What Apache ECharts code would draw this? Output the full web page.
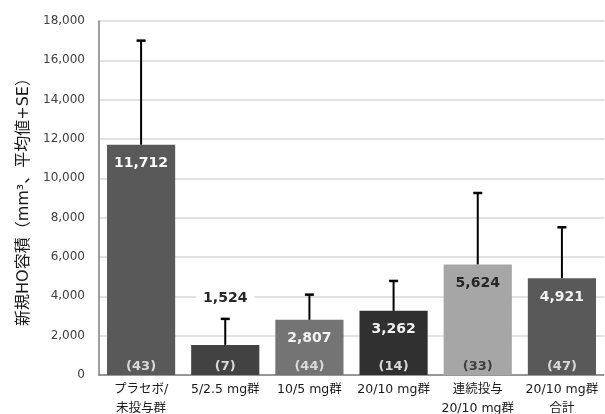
<!DOCTYPE html>
<html><head><meta charset="utf-8">
<script src="https://cdn.jsdelivr.net/npm/echarts@6/dist/echarts.min.js"></script>
<style>html,body{margin:0;padding:0;background:#fff}#c{width:605px;height:414px}</style>
</head><body><div id="c"></div>
<script>
const categories = ['プラセボ/\n未投与群', '5/2.5 mg群', '10/5 mg群', '20/10 mg群', '連続投与\n20/10 mg群', '20/10 mg群\n合計'];
const means = [11712, 1524, 2807, 3262, 5624, 4921];
const seValues = [5290, 1330, 1280, 1520, 3630, 2590];
const groupN = [43, 7, 44, 14, 33, 47];
const yTicks = { min: 0, max: 18000, interval: 2000 };

const barColors = ['#595959', '#424242', '#747474', '#303030', '#a6a6a6', '#595959'];
const valueTextColors = ['#ffffff', '#262626', '#f2f2f2', '#f2f2f2', '#262626', '#f2f2f2'];
const nTextColors = ['#d9d9d9', '#d9d9d9', '#d9d9d9', '#d9d9d9', '#404040', '#d9d9d9'];
const numFont = '"DejaVu Sans", Verdana, sans-serif';
const jpFont = '"DejaVu Sans", "Noto Sans CJK JP", sans-serif';
const fmt = v => v.toLocaleString('en-US');

const chart = echarts.init(document.getElementById('c'), null, { renderer: 'canvas' });
chart.setOption({
  animation: false,
  grid: { left: 99, right: 1, top: 21, bottom: 39, outerBoundsMode: 'none', containLabel: false },
  xAxis: {
    type: 'category', data: categories,
    axisLine: { lineStyle: { color: '#7f7f7f', width: 1.5 } },
    axisTick: { show: false },
    axisLabel: { interval: 0, color: '#1a1a1a', fontSize: 12.5, fontFamily: jpFont, lineHeight: 19, margin: 5 }
  },
  yAxis: {
    type: 'value', min: yTicks.min, max: yTicks.max, interval: yTicks.interval,
    name: '新規HO容積（mm³、平均値+SE）', nameLocation: 'middle', nameGap: 53, nameRotate: 90,
    nameTextStyle: { fontSize: 16, color: '#1a1a1a', fontFamily: jpFont },
    axisLine: { show: true, lineStyle: { color: '#7f7f7f', width: 1.5 } },
    axisTick: { show: false },
    axisLabel: { color: '#404040', fontSize: 12, fontFamily: numFont, margin: 14, formatter: v => fmt(v) },
    splitLine: { lineStyle: { color: '#d9d9d9', width: 1.5 } }
  },
  series: [{
    type: 'bar', barCategoryGap: '19%',
    data: means.map((v, i) => ({
      value: v,
      itemStyle: { color: barColors[i] },
      label: {
        show: i !== 1, position: 'insideTop', distance: 12,
        color: valueTextColors[i], fontSize: 14, fontWeight: 'bold', fontFamily: numFont,
        formatter: p => fmt(p.value)
      }
    }))
  }, {
    type: 'custom', z: 5,
    data: means.map((v, i) => [i, v, seValues[i], groupN[i]]),
    renderItem: (params, api) => {
      const i = api.value(0), m = api.value(1), se = api.value(2), n = api.value(3);
      const p0 = api.coord([i, m]);
      const p1 = api.coord([i, m + se]);
      const pb = api.coord([i, 0]);
      const children = [
        { type: 'line', shape: { x1: p0[0], y1: p0[1], x2: p1[0], y2: p1[1] }, style: { stroke: '#000', lineWidth: 2 } },
        { type: 'line', shape: { x1: p1[0] - 4.5, y1: p1[1], x2: p1[0] + 4.5, y2: p1[1] }, style: { stroke: '#000', lineWidth: 2.5 } },
        { type: 'text', x: pb[0], y: pb[1] - 8, style: { text: '(' + n + ')', fill: nTextColors[i], fontSize: 13, fontWeight: 'bold', fontFamily: numFont, align: 'center', verticalAlign: 'middle' } }
      ];
      if (i === 1) {
        children.push({ type: 'text', x: p1[0], y: p1[1] - 21, style: { text: fmt(m), fill: '#262626', fontSize: 14, fontWeight: 'bold', fontFamily: numFont, align: 'center', verticalAlign: 'middle', backgroundColor: '#fff', padding: [1, 7] } });
      }
      return { type: 'group', children };
    }
  }]
});
</script></body></html>
